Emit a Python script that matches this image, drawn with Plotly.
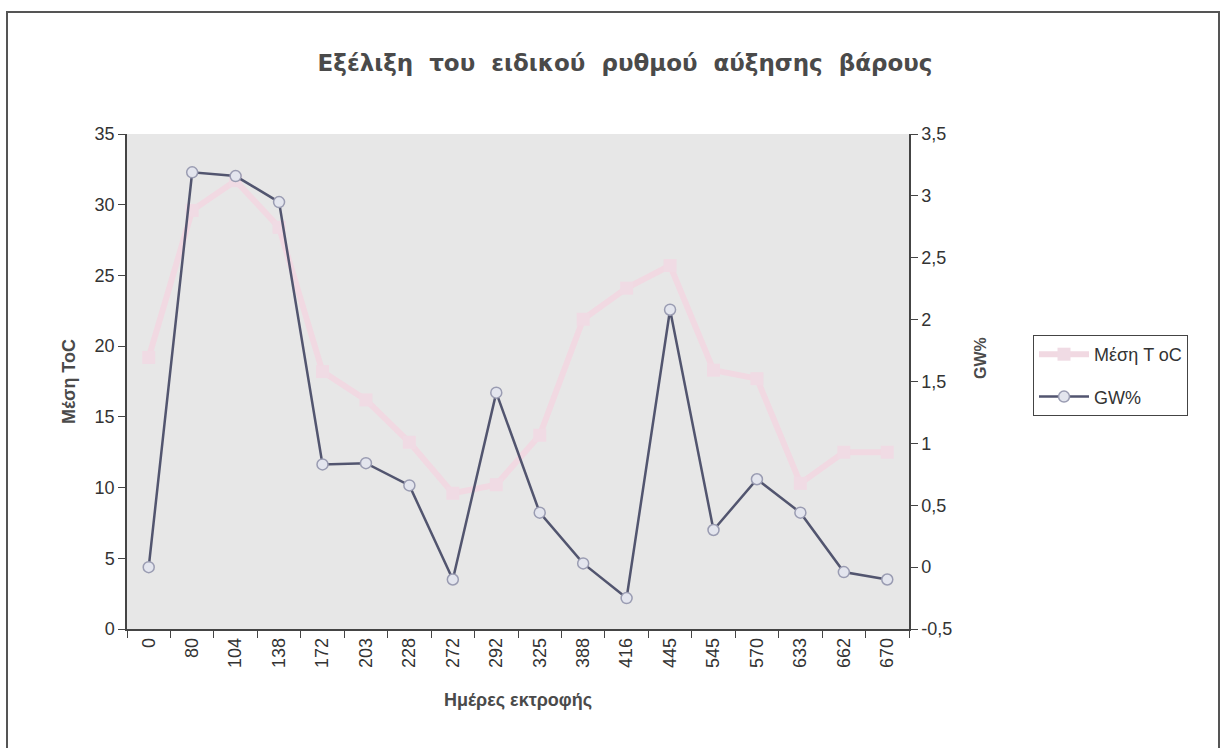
import plotly.graph_objects as go

days = ["0", "80", "104", "138", "172", "203", "228", "272", "292", "325",
        "388", "416", "445", "545", "570", "633", "662", "670"]
temp_mean = [19.2, 29.6, 31.7, 28.4, 18.2, 16.2, 13.2, 9.6, 10.2, 13.7,
             21.9, 24.1, 25.7, 18.3, 17.7, 10.3, 12.5, 12.5]
gw_pct = [0.0, 3.19, 3.16, 2.95, 0.83, 0.84, 0.66, -0.10, 1.41, 0.44,
          0.03, -0.25, 2.08, 0.30, 0.71, 0.44, -0.04, -0.10]
gw_tick_vals = [-0.5, 0, 0.5, 1, 1.5, 2, 2.5, 3, 3.5]
gw_tick_text = ["-0,5", "0", "0,5", "1", "1,5", "2", "2,5", "3", "3,5"]

head_family = "DejaVu Sans, Liberation Sans, sans-serif"
axis_title_family = "Liberation Sans Narrow, Arial Narrow, Liberation Sans, sans-serif"
tick_font = dict(family="Liberation Sans, Arial, sans-serif", size=18, color="#333333")
title_color = "#4a4a4a"

fig = go.Figure()
fig.add_trace(go.Scatter(
    x=days, y=temp_mean, name="Μέση T oC", mode="lines+markers",
    legendgroup="t",
    line=dict(color="#f1d9e2", width=6),
    marker=dict(symbol="square", size=13, color="#f0dbe4"),
    yaxis="y"))
fig.add_trace(go.Scatter(
    x=days, y=gw_pct, name="GW%", mode="lines+markers",
    legendgroup="g",
    line=dict(color="#52556f", width=2.5),
    marker=dict(symbol="circle", size=11, color="#e3e5ee",
                line=dict(color="#9a9cb2", width=1.5)),
    yaxis="y2"))

nb = "\u00a0"
title_text = (nb * 2).join(["Εξέλιξη", "του", "ειδικού", "ρυθμού", "αύξησης", "βάρους"])

fig.update_layout(
    width=1223, height=748,
    margin=dict(l=127, r=314, t=134, b=119),
    paper_bgcolor="white",
    plot_bgcolor="#e7e7e7",
    separators=",.",
    title=dict(text="<b>" + title_text + "</b>",
               x=625 / 1223, xanchor="center", y=1 - 63 / 748, yanchor="middle",
               font=dict(family=head_family, size=23, color=title_color)),
    xaxis=dict(type="category", range=[-0.5, 17.5], tickangle=-90, tickson="boundaries",
               ticks="outside", ticklen=7, tickcolor="#444",
               showline=True, linecolor="#444", linewidth=1.5,
               showgrid=False, tickfont=tick_font,
               title=dict(text="<b>Ημέρες εκτροφής</b>",
                          font=dict(family=axis_title_family, size=18, color=title_color),
                          standoff=26)),
    yaxis=dict(range=[0, 35], dtick=5, ticks="outside", ticklen=7, tickcolor="#444",
               showline=True, linecolor="#444", linewidth=1.5, showgrid=False,
               zeroline=False, tickfont=tick_font,
               title=dict(text="<b>Μέση ToC</b>",
                          font=dict(family=axis_title_family, size=18, color=title_color),
                          standoff=14)),
    yaxis2=dict(range=[-0.5, 3.5], tickmode="array", tickvals=gw_tick_vals,
                ticktext=gw_tick_text, overlaying="y", side="right",
                ticks="outside", ticklen=7, tickcolor="#444",
                showline=True, linecolor="#444", linewidth=1.5, showgrid=False,
                zeroline=False, tickfont=tick_font),
    legend=dict(x=(1033 - 127) / 782, y=(629 - 335) / 495, xanchor="left", yanchor="top",
                bgcolor="white", bordercolor="#444", borderwidth=1,
                font=dict(family="Liberation Sans, Arial, sans-serif", size=18, color="#333"),
                itemwidth=50, tracegroupgap=16),
    showlegend=True,
)

fig.add_annotation(text="<b>GW%</b>", xref="paper", yref="paper",
                   x=(980 - 127) / 782, y=(629 - 358) / 495, textangle=-90,
                   showarrow=False, xanchor="center", yanchor="middle",
                   font=dict(family=axis_title_family, size=16, color=title_color))

fig.add_shape(type="rect", xref="paper", yref="paper",
              x0=(7 - 127) / 782, x1=(1219 - 127) / 782,
              y0=(629 - 12) / 495, y1=(629 - 760) / 495,
              line=dict(color="#555", width=2), fillcolor="rgba(0,0,0,0)", layer="below")

fig.write_html("out.html")
